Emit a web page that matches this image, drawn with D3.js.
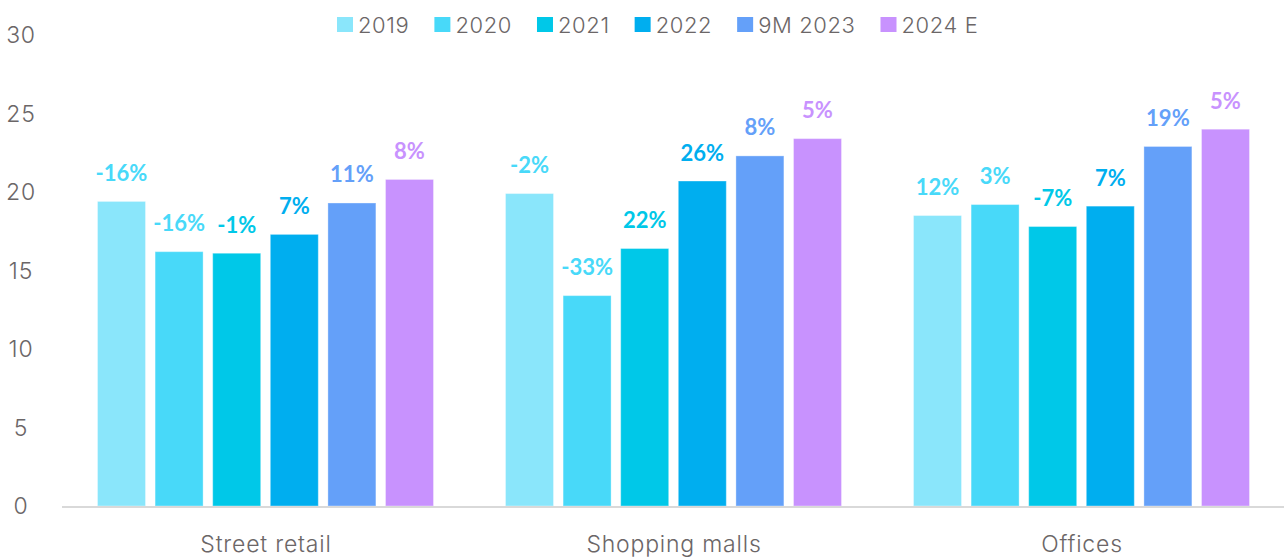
<!DOCTYPE html>
<html>
<head>
<meta charset="utf-8">
<script src="https://cdn.jsdelivr.net/npm/d3@7/dist/d3.min.js"></script>
<style>
  html, body { margin: 0; padding: 0; background: #fff; }
  svg { display: block; }
</style>
</head>
<body>
<script>
const categories = ["Street retail", "Shopping malls", "Offices"];
const seriesNames = ["2019", "2020", "2021", "2022", "9M 2023", "2024 E"];
const values2019 = [19.4, 19.9, 18.5];
const values2020 = [16.2, 13.4, 19.2];
const values2021 = [16.1, 16.4, 17.8];
const values2022 = [17.3, 20.7, 19.1];
const values9M2023 = [19.3, 22.3, 22.9];
const values2024E = [20.8, 23.4, 24.0];
const labels2019 = ["-16%", "-2%", "12%"];
const labels2020 = ["-16%", "-33%", "3%"];
const labels2021 = ["-1%", "22%", "-7%"];
const labels2022 = ["7%", "26%", "7%"];
const labels9M2023 = ["11%", "8%", "19%"];
const labels2024E = ["8%", "5%", "5%"];
const yTicks = [0, 5, 10, 15, 20, 25, 30];

const barColors = ["#8ae6fb", "#48d9f9", "#00c8e8", "#00aeef", "#64a0f9", "#c892fe"];
const labelColors = ["#48d9f9", "#48d9f9", "#00c8e8", "#00aeef", "#64a0f9", "#c892fe"];

const allValues = [values2019, values2020, values2021, values2022, values9M2023, values2024E];
const allLabels = [labels2019, labels2020, labels2021, labels2022, labels9M2023, labels2024E];

const W = 1284, H = 558;
const svg = d3.select("body").append("svg").attr("width", W).attr("height", H);

const y = d3.scaleLinear().domain([0, 30]).range([506, 35]);
const x0 = d3.scaleBand().domain(categories).range([62, 1286]).padding(0);
const x1 = d3.scaleBand().domain(seriesNames)
  .range([35.5, 371.5]).paddingInner(0.1667).paddingOuter(0);

const tickFont = "Inter, 'Open Sans', sans-serif";
const tickSize = 23;
const tickSpacing = "0.8px";

// y tick labels
svg.append("g").selectAll("text").data(yTicks).join("text")
  .attr("x", 21).attr("y", d => y(d))
  .attr("text-anchor", "middle").attr("dominant-baseline", "central")
  .attr("font-family", tickFont).attr("font-weight", 300)
  .attr("font-size", tickSize).attr("letter-spacing", tickSpacing).attr("fill", "#6b6667")
  .text(d => d);

// bars
const data = [];
categories.forEach((c, ci) => {
  seriesNames.forEach((s, si) => {
    data.push({ cat: c, ser: s, si, v: allValues[si][ci], lab: allLabels[si][ci] });
  });
});

const g = svg.append("g");
g.selectAll("rect").data(data).join("rect")
  .attr("x", d => x0(d.cat) + x1(d.ser))
  .attr("y", d => y(d.v))
  .attr("width", x1.bandwidth())
  .attr("height", d => y(0) - y(d.v))
  .attr("fill", d => barColors[d.si])
  .attr("stroke", "#ffffff").attr("stroke-opacity", 0.35).attr("stroke-width", 1);

// axis baseline
svg.append("line")
  .attr("x1", 62).attr("x2", 1284).attr("y1", y(0) + 1).attr("y2", y(0) + 1)
  .attr("stroke", "#d9d9d9").attr("stroke-width", 2);

// value labels
g.selectAll("text.lab").data(data).join("text").attr("class", "lab")
  .attr("x", d => x0(d.cat) + x1(d.ser) + x1.bandwidth() / 2)
  .attr("y", d => y(d.v) - 29)
  .attr("text-anchor", "middle").attr("dominant-baseline", "central")
  .attr("font-family", "Lato, 'Open Sans', sans-serif").attr("font-weight", 700)
  .attr("font-size", 22).attr("fill", d => labelColors[d.si])
  .text(d => d.lab);

// category labels
svg.append("g").selectAll("text").data(categories).join("text")
  .attr("x", d => x0(d) + x0.bandwidth() / 2)
  .attr("y", 544)
  .attr("text-anchor", "middle").attr("dominant-baseline", "central")
  .attr("font-family", tickFont).attr("font-weight", 300)
  .attr("font-size", tickSize).attr("letter-spacing", tickSpacing).attr("fill", "#6b6667")
  .text(d => d);

// legend
const legend = svg.append("g");
let lx = 337;
seriesNames.forEach((s, i) => {
  const item = legend.append("g").attr("transform", `translate(${lx},0)`);
  item.append("rect").attr("x", 0).attr("y", 17).attr("width", 16).attr("height", 15)
    .attr("fill", barColors[i]);
  const t = item.append("text").attr("x", 21).attr("y", 24.5)
    .attr("dominant-baseline", "central")
    .attr("font-family", tickFont).attr("font-weight", 300)
    .attr("font-size", 22).attr("letter-spacing", "0.6px")
    .attr("fill", "#6b6667").text(s);
  const tw = t.node().getComputedTextLength();
  lx += 21 + tw + 25;
});
</script>
</body>
</html>
